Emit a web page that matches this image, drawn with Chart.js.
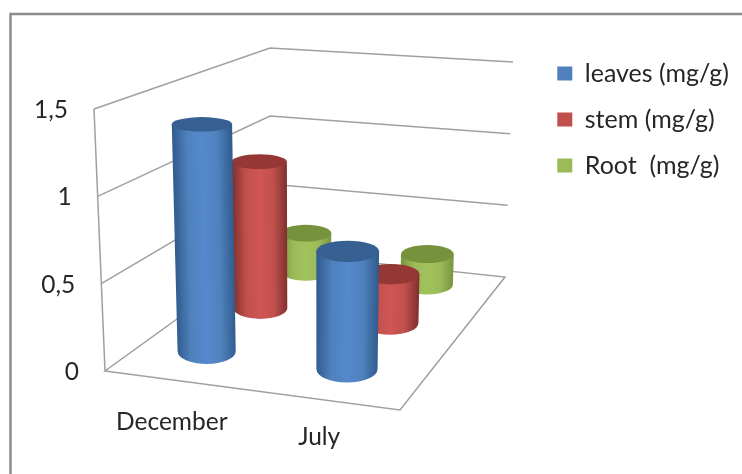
<!DOCTYPE html>
<html>
<head>
<meta charset="utf-8">
<title>Chart</title>
<script src="https://cdn.jsdelivr.net/npm/chart.js@4"></script>
<style>
    html, body { margin: 0; padding: 0; background: #fff; }
    canvas { display: block; }
</style>
</head>
<body>
<canvas id="myChart" width="742" height="474"></canvas>
<script>
const months = ['December', 'July'];
const leaves = [1.35, 0.68];
const stem = [0.95, 0.31];
const root = [0.27, 0.21];
const yMax = 1.5;
const yStep = 0.5;

const textColor = '#262626';
const gridColor = '#a0a0a0';
const fontFamily = 'Lato, "Open Sans", sans-serif';

// shading per series: flat colour, cap, cylinder edge, cylinder middle
const blue = { flat: '#4f81bd', cap: '#376092', edge: '#2f5a8c', mid: '#5589cc' };
const red = { flat: '#c0504d', cap: '#953735', edge: '#7e2f2d', mid: '#cf5654' };
const green = { flat: '#9bbb59', cap: '#76923c', edge: '#789540', mid: '#a0c25c' };

// corners of the 3d box on the page, order: front left, front right, back right, back left
const floorQuad = [[105, 371], [400, 410], [505, 277], [270, 252]];
const topQuad = [[94, 109], [405, 132], [513, 62], [270, 48]];

// how far each month name hangs below the front edge of the floor
const monthLabelDrop = [42, 37];

// unit square to quad, plain projective mapping
const makeMapping = (q) => {
    const [[x0, y0], [x1, y1], [x2, y2], [x3, y3]] = q;
    const dx1 = x1 - x2, dx2 = x3 - x2, sx = x0 - x1 + x2 - x3;
    const dy1 = y1 - y2, dy2 = y3 - y2, sy = y0 - y1 + y2 - y3;
    const den = dx1 * dy2 - dx2 * dy1;
    const g = (sx * dy2 - dx2 * sy) / den;
    const h = (dx1 * sy - sx * dy1) / den;
    const a = x1 - x0 + g * x1, b = x3 - x0 + h * x3;
    const d = y1 - y0 + g * y1, e = y3 - y0 + h * y3;
    return (u, w) => {
        const k = g * u + h * w + 1;
        return [(a * u + b * w + x0) / k, (d * u + e * w + y0) / k];
    };
};

const onFloor = makeMapping(floorQuad);
const onTop = makeMapping(topQuad);

// u across the categories, v up the value axis, w into the depth (all 0..1)
const project = (u, v, w) => {
    const p = onFloor(u, w);
    const q = onTop(u, w);
    return [p[0] + (q[0] - p[0]) * v, p[1] + (q[1] - p[1]) * v];
};

const fracX = (chart, px) => (px - chart.chartArea.left) / chart.chartArea.width;
const fracY = (chart, py) => (chart.chartArea.bottom - py) / chart.chartArea.height;

const strokePath = (ctx, points, close) => {
    ctx.beginPath();
    points.forEach((p, i) => i ? ctx.lineTo(p[0], p[1]) : ctx.moveTo(p[0], p[1]));
    if (close) ctx.closePath();
    ctx.stroke();
};

const drawCylinder = (ctx, u, v, w, r, shade) => {
    const low = project(u, 0, w);
    const high = project(u, v, w);

    // ellipse radii come from the plane the cap sits on
    const radii = (vv) => {
        const l = project(u - r, vv, w), rr = project(u + r, vv, w);
        const n = project(u, vv, w - r), f = project(u, vv, w + r);
        return [Math.abs(rr[0] - l[0]) / 2, Math.abs(n[1] - f[1]) / 2 * 0.85];
    };
    const [lowX, lowY] = radii(0);
    const [highX, highY] = radii(v);

    // shading runs across the cylinder, square to its slightly leaning axis
    const ax = high[0] - low[0], ay = high[1] - low[1];
    const len = Math.hypot(ax, ay);
    const px = -ay / len * highX, py = ax / len * highX;
    const grad = ctx.createLinearGradient(high[0] - px, high[1] - py, high[0] + px, high[1] + py);
    grad.addColorStop(0, shade.edge);
    grad.addColorStop(0.25, shade.flat);
    grad.addColorStop(0.5, shade.mid);
    grad.addColorStop(0.75, shade.flat);
    grad.addColorStop(1, shade.edge);

    ctx.beginPath();
    ctx.moveTo(high[0] - highX, high[1]);
    ctx.lineTo(low[0] - lowX, low[1]);
    ctx.ellipse(low[0], low[1], lowX, lowY, 0, Math.PI, 0, true);
    ctx.lineTo(high[0] + highX, high[1]);
    ctx.closePath();
    ctx.fillStyle = grad;
    ctx.fill();

    ctx.beginPath();
    ctx.ellipse(high[0], high[1], highX, highY, 0, 0, Math.PI * 2);
    ctx.fillStyle = shade.cap;
    ctx.fill();
};

// frame, walls, floor and axis text, all placed from the chart's own scales
const boxPlugin = {
    id: 'box3d',
    beforeDraw(chart) {
        const ctx = chart.ctx;
        ctx.save();
        ctx.fillStyle = '#fff';
        ctx.fillRect(0, 0, chart.width, chart.height);
        ctx.strokeStyle = '#8c8c8c';
        ctx.lineWidth = 2.5;
        strokePath(ctx, [[10.5, chart.height], [10.5, 14], [chart.width, 14]]);
        ctx.restore();
    },
    beforeDatasetsDraw(chart) {
        const ctx = chart.ctx;
        const yScale = chart.scales.y;
        const xScale = chart.scales.x;
        ctx.save();
        ctx.strokeStyle = gridColor;
        ctx.lineWidth = 1.5;

        strokePath(ctx, [project(0, 0, 0), project(0, 1, 0)]);
        strokePath(ctx, [project(0, 0, 0), project(1, 0, 0), project(1, 0, 1), project(0, 0, 1)], true);
        yScale.ticks.forEach((tick, i) => {
            const v = fracY(chart, yScale.getPixelForTick(i));
            if (v > 0) strokePath(ctx, [project(0, v, 0), project(0, v, 1), project(1, v, 1)]);
        });

        ctx.fillStyle = textColor;
        ctx.font = `24.5px ${fontFamily}`;
        ctx.textBaseline = 'middle';
        ctx.textAlign = 'right';
        yScale.ticks.forEach((tick, i) => {
            const v = fracY(chart, yScale.getPixelForTick(i));
            const p = project(0, v, 0);
            ctx.fillText(tick.label, p[0] - 26, p[1] + 1);
        });
        ctx.textAlign = 'center';
        xScale.ticks.forEach((tick, i) => {
            const p = project(fracX(chart, xScale.getPixelForTick(i)), 0, 0);
            ctx.fillText(tick.label, p[0] - 4, p[1] + monthLabelDrop[i]);
        });
        ctx.restore();
    },
    // cylinders replace the flat bars, the bar elements still give their size and value
    beforeDatasetDraw(chart, args) {
        const ctx = chart.ctx;
        const meta = args.meta;
        const shade = chart.data.datasets[args.index].shade;
        const w = (args.index + 0.5) / chart.data.datasets.length + 0.025;
        meta.data.forEach((bar) => {
            // cylinders stand a touch left of the category centre
            const u = fracX(chart, bar.x) - 0.016;
            const v = fracY(chart, bar.y);
            const r = bar.width / 2 / chart.chartArea.width;
            drawCylinder(ctx, u, v, w, r, shade);
        });
        return false;
    }
};

const series = [
    { label: 'leaves (mg/g)', data: leaves, backgroundColor: blue.flat, shade: blue },
    { label: 'stem (mg/g)', data: stem, backgroundColor: red.flat, shade: red },
    { label: 'Root  (mg/g)', data: root, backgroundColor: green.flat, shade: green }
];

const myChart = new Chart(document.getElementById('myChart'), {
    type: 'bar',
    data: { labels: months, datasets: series },
    plugins: [boxPlugin],
    options: {
        responsive: false,
        animation: false,
        grouped: false,
        categoryPercentage: 0.5,
        barPercentage: 0.85,
        layout: { padding: { left: 94, right: 3, top: 40, bottom: 104 } },
        scales: {
            x: {
                grid: { display: false },
                border: { display: false },
                ticks: { display: false }
            },
            y: {
                min: 0,
                max: yMax,
                grid: { display: false },
                border: { display: false },
                ticks: {
                    display: false,
                    stepSize: yStep,
                    callback: (value) => String(value).replace('.', ',')
                }
            }
        },
        plugins: {
            tooltip: { enabled: false },
            legend: {
                position: 'right',
                align: 'start',
                maxWidth: 220,
                labels: {
                    boxWidth: 15,
                    boxHeight: 14,
                    padding: 21,
                    color: textColor,
                    font: { family: fontFamily, size: 25 }
                }
            }
        }
    }
});
</script>
</body>
</html>
